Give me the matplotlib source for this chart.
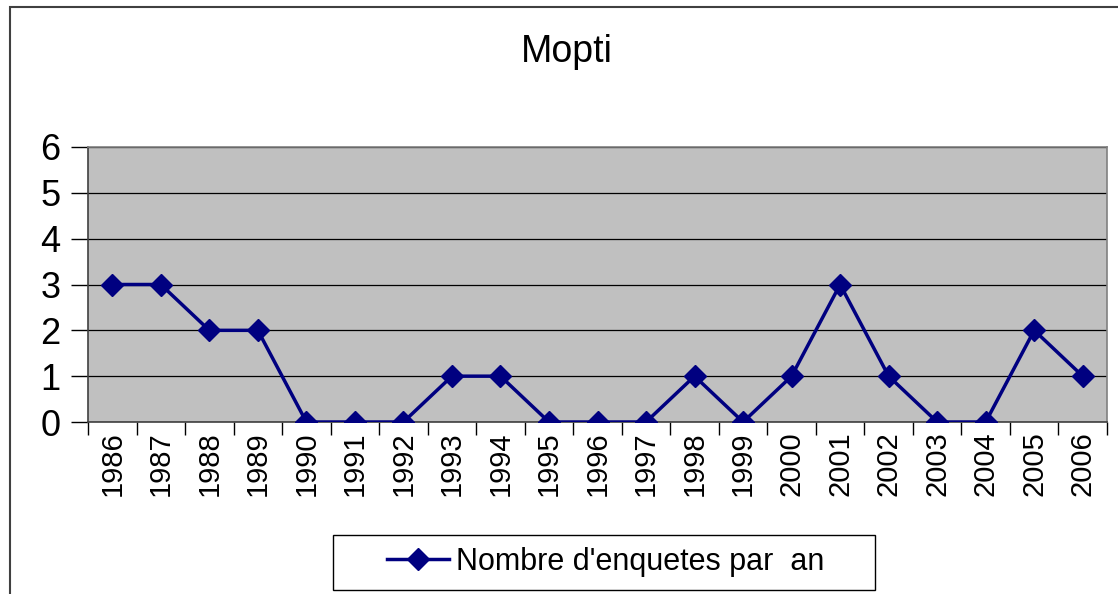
import matplotlib
matplotlib.use("Agg")
import matplotlib.pyplot as plt
from matplotlib.patches import Rectangle

plt.rcParams['font.family'] = ['Liberation Sans', 'DejaVu Sans']

years = [str(y) for y in range(1986, 2007)]
enquetes = [3, 3, 2, 2, 0, 0, 0, 1, 1, 0, 0, 0, 1, 0, 1, 3, 1, 0, 0, 2, 1]

W, H = 1118, 594
fig = plt.figure(figsize=(W / 100, H / 100), dpi=100)
fig.patch.set_facecolor('white')

# outer chart frame (cut at right and bottom like the screenshot)
fig.patches.append(Rectangle((10 / W, -0.05), 1.2, (H - 7) / H + 0.05,
                             transform=fig.transFigure, fill=False,
                             edgecolor='#404040', linewidth=1.5, zorder=0))

ax = fig.add_axes([88 / W, 1 - 422 / H, (1107 - 88) / W, (422 - 147) / H])
ax.set_facecolor('#C0C0C0')

x = list(range(len(years)))
ax.plot(x, enquetes, color='#000080', linewidth=2.5, marker='D',
        markersize=11, markerfacecolor='#000080', markeredgecolor='#000080',
        label="Nombre d'enquetes par  an", zorder=3)

ax.set_xlim(-0.5, len(years) - 0.5)
ax.set_ylim(0, 6)
ax.set_yticks(range(0, 7))
ax.set_yticklabels([str(v) for v in range(0, 7)], fontsize=26)
ax.yaxis.grid(True, color='black', linewidth=0.9)
ax.set_axisbelow(True)

ax.set_xticks([i - 0.5 for i in range(len(years) + 1)], minor=False)
ax.set_xticklabels([''] * (len(years) + 1))
ax.set_xticks(x, minor=True)
ax.set_xticklabels(years, minor=True, rotation=90, fontsize=21)
ax.tick_params(axis='x', which='minor', length=0, pad=7)
ax.tick_params(axis='x', which='major', length=9, width=1, color='black', direction='out')
ax.tick_params(axis='y', length=12, width=1, color='black', direction='out', pad=8)

for side in ['top', 'right']:
    ax.spines[side].set_color('#808080')
    ax.spines[side].set_linewidth(1.2)
for side in ['left', 'bottom']:
    ax.spines[side].set_color('#404040')
    ax.spines[side].set_linewidth(1.2)

fig.text(567 / W, 1 - 52 / H, 'Mopti', ha='center', va='center', fontsize=27)

# legend box drawn separately so its padding matches the Excel look
fig.patches.append(Rectangle((333 / W, 1 - 590 / H), (875 - 333) / W, (590 - 535) / H,
                             transform=fig.transFigure, fill=True, facecolor='white',
                             edgecolor='black', linewidth=1.0, zorder=1))
leg = fig.legend(loc='center', bbox_to_anchor=(606 / W, 1 - 562 / H),
                 fontsize=22, frameon=False, handlelength=2.0,
                 borderpad=0.2, handletextpad=0.25, borderaxespad=0)

fig.savefig('out.png', dpi=100)
